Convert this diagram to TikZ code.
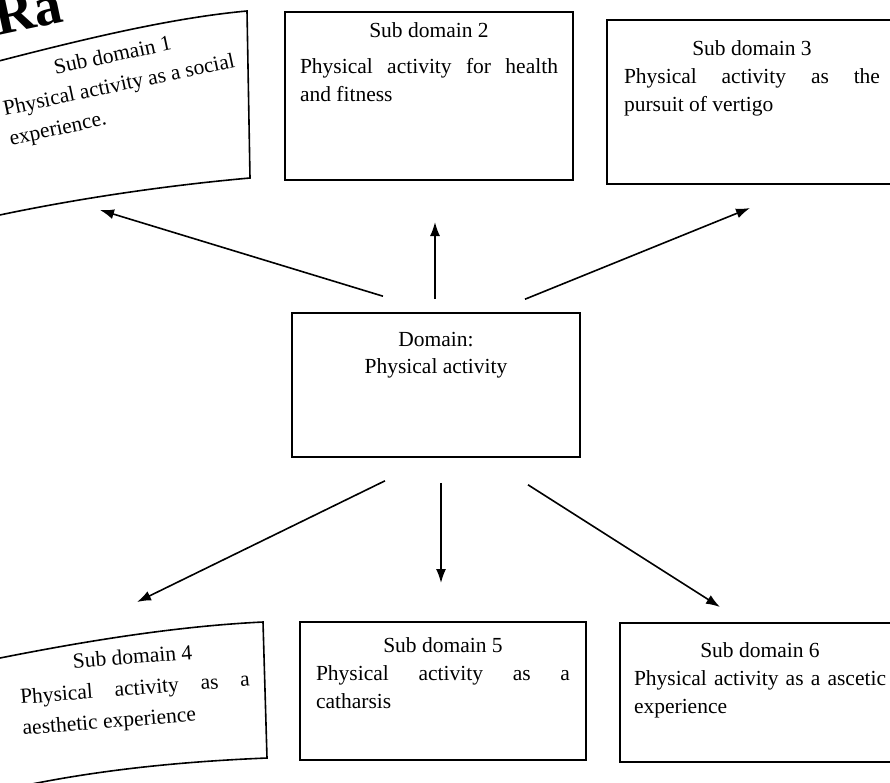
\documentclass[tikz,border=0pt]{standalone}
\usepackage{fontspec}
\setmainfont{Liberation Serif}
\usetikzlibrary{arrows.meta}
\newcommand\bxtext[3]{\parbox[c][#1][t]{#2}{\fontsize{21.5}{28}\selectfont\hyphenpenalty=10000\exhyphenpenalty=10000 #3}}
\tikzset{
  frame/.style={draw, line width=1.6pt, inner sep=0pt},
  bare/.style={inner sep=0pt},
  arr/.style={line width=1.6pt, -{Latex[length=14pt,width=10pt]}},
  edge/.style={line width=1.6pt},
}
\begin{document}
\begin{tikzpicture}[x=1pt,y=-1pt]
\useasboundingbox[fill=white] (0,0) rectangle (890,782);

% heading fragment
\node[bare, anchor=base west, rotate=12, font=\bfseries\fontsize{56}{56}\selectfont] (hdr) at (-2,36) {Ra};

% Sub domain 1 (skewed by the photo)
\draw[edge] (-5,62) .. controls (80,40) and (170,18) .. (247,11) -- (250,178) .. controls (160,186) and (70,200) .. (-5,216);
\node[bare, anchor=base, rotate=12] (s1) at (114,62)
  {\parbox[t]{236pt}{\fontsize{21.5}{30}\selectfont\hyphenpenalty=10000
   {\centering Sub domain 1\par}Physical activity as a social\linebreak experience.}};

% Sub domain 2
\node[frame, minimum width=288pt, minimum height=168pt] (s2) at (429,96)
  {\bxtext{146pt}{258pt}{{\centering Sub domain 2\par}\vspace{8pt}Physical activity for health\linebreak and fitness}};

% Sub domain 3
\node[frame, minimum width=290pt, minimum height=164pt] (s3) at (752,102)
  {\bxtext{123pt}{256pt}{{\centering Sub domain 3\par}Physical activity as the\linebreak pursuit of vertigo}};

% Domain
\node[frame, minimum width=288pt, minimum height=144pt] (dom) at (436,385)
  {\parbox[c][106pt][t]{258pt}{\fontsize{21.5}{27}\selectfont\centering Domain:\\Physical activity}};

% Sub domain 4 (skewed by the photo)
\draw[edge] (-5,659) .. controls (90,640) and (180,626) .. (263,622) -- (267,758) .. controls (170,762) and (80,772) .. (-5,792);
\node[bare, anchor=base, rotate=4.5] (s4) at (133,664)
  {\parbox[t]{230pt}{\fontsize{21.5}{31}\selectfont\hyphenpenalty=10000
   {\centering Sub domain 4\par}Physical activity as a\linebreak aesthetic experience}};

% Sub domain 5
\node[frame, minimum width=286pt, minimum height=138pt] (s5) at (443,691)
  {\bxtext{107pt}{254pt}{{\centering Sub domain 5\par}Physical activity as a\linebreak catharsis}};

% Sub domain 6
\node[frame, minimum width=280pt, minimum height=139pt] (s6) at (760,692.5)
  {\bxtext{99pt}{252pt}{{\centering Sub domain 6\par}Physical activity as a ascetic\linebreak experience}};

% arrow ends
\coordinate (e1) at (100,210);
\coordinate (e2) at (435,222);
\coordinate (e3) at (750,208);
\coordinate (e4) at (137,602);
\coordinate (e5) at (441,583);
\coordinate (e6) at (720,607);

\draw[arr] ([shift={(-53,-16)}]dom.north) -- (e1);
\draw[arr] ([shift={(-1,-13)}]dom.north) -- (e2);
\draw[arr] ([shift={(89,-13)}]dom.north) -- (e3);
\draw[arr] ([shift={(-51,23)}]dom.south) -- (e4);
\draw[arr] ([shift={(5,25)}]dom.south) -- (e5);
\draw[arr] ([shift={(92,27)}]dom.south) -- (e6);
\end{tikzpicture}
\end{document}
